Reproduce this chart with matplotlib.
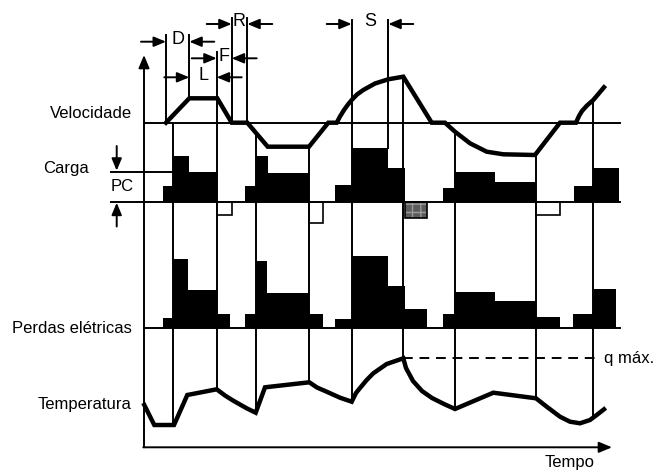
import numpy as np
import matplotlib
matplotlib.use("Agg")
import matplotlib.pyplot as plt

plt.rcParams['font.family'] = ['Liberation Sans', 'DejaVu Sans']

# Linhas de base de cada diagrama (coordenadas da figura, em pixels)
base_vel = 122.7
base_carga = 201.7
topo_pc = 171.7
base_perdas = 328.3
q_max = 358.3
eixo_x0, eixo_y0 = 144, 447.3

# Curva de velocidade
vel_x = [166, 189.3, 217.3, 231.7, 247.3, 267.7, 309, 328.3, 336.7, 340, 344, 348, 351.7,
         357, 363.3, 375, 388.3, 403.3, 431.7, 445, 455, 470, 486.7, 503.3, 535, 560, 576,
         579, 582, 587, 593.3, 604]
vel_y = [122.7, 98.3, 98.3, 122.7, 122.7, 146.7, 146.7, 122.7, 122.7, 116.5, 110, 104.5,
         100, 94.5, 90, 83.5, 79.3, 76.7, 122.7, 122.7, 131.7, 143.3, 151.7, 154.3, 155,
         122.7, 122.7, 116, 111, 105.5, 100, 87.3]

# Carga (altura acima da linha de base; negativo = frenagem)
carga_bordas = [162.7, 172.7, 189.3, 216.7, 231.7, 245, 255.7, 268.3, 309.3, 323.3, 335,
                351.7, 388.3, 405, 426.7, 443.3, 454, 495, 536, 560, 574, 593.3, 619]
carga = [16, 46, 30, -13, 0, 16, 46, 29, -21, 0, 17, 54, 34, -16, 0, 14, 30, 20, -13, 0,
         16, 34]
carga_tipo = ['m', 'm', 'm', 'f', '', 'm', 'm', 'm', 'f', '', 'm', 'm', 'm', 'g', '',
              'm', 'm', 'm', 'f', '', 'm', 'm']

# Perdas eletricas
perdas_bordas = [162.7, 172.7, 188.3, 216.7, 230, 245, 255.7, 266.7, 309.3, 322.7, 335,
                 351.7, 388.3, 405, 426.7, 442.7, 454, 495, 536, 560, 573.3, 593.3, 616]
perdas = [10.6, 69, 38, 14, 0, 14, 67.6, 35.6, 14, 0, 9.3, 72, 42.6, 19, 0, 14, 36.6,
          27.6, 11.6, 0, 14, 39]

# Temperatura
temp_x = [144.3, 154.3, 174, 187.3, 216.7, 225, 233.3, 246.7, 255.7, 265, 309.3, 317,
          326.7, 340, 351.7, 356, 360, 366.7, 373.3, 386.7, 403.3, 406, 413, 422, 432,
          444, 455, 493.3, 536, 546.7, 560, 570, 580, 590, 596.7, 604]
temp_y = [405, 425, 425, 395, 389.3, 395.5, 400.7, 408.3, 412.7, 387.3, 382.3, 387.5,
          391.7, 397.7, 401.7, 393, 388, 380, 373.3, 364, 358.3, 368, 381, 391, 398,
          404, 409, 392.7, 398.3, 406.7, 416.7, 421.7, 423.3, 420, 415, 409.3]

# Linhas verticais de cada periodo
ciclos_x = [173, 216.7, 256, 309.3, 351.7, 403.3, 455, 536, 593.3]

# Cotas: (rotulo, x esquerdo, x direito, y da seta, topo das linhas)
cotas = [('D', 166, 189.3, 41.7, 35),
         ('L', 189.3, 216.7, 77.3, None),
         ('F', 216.7, 231.7, 58.3, 52),
         ('R', 231.7, 247.3, 24, 18),
         ('S', 351.7, 388.3, 24, 20)]

rotulos = ['Velocidade', 'Carga', 'Perdas elétricas', 'Temperatura']
rotulos_x = [132, 89, 132, 132]
rotulos_y = [113.3, 169, 328.3, 404.3]

fig = plt.figure(figsize=(6.57, 4.70), dpi=100)
ax = fig.add_axes([0, 0, 1, 1])
ax.set_xlim(0, 657)
ax.set_ylim(470, 0)
ax.axis('off')

lw_fino = 1.4
lw_grosso = 3.2
seta = '-|>,head_length=0.6,head_width=0.25'
fs = 12

# eixos
ax.annotate('', xy=(eixo_x0, 55), xytext=(eixo_x0, eixo_y0),
            arrowprops=dict(arrowstyle=seta, color='k', lw=lw_fino, mutation_scale=13,
                            shrinkA=0, shrinkB=0))
ax.annotate('', xy=(612, eixo_y0), xytext=(eixo_x0 - 0.7, eixo_y0),
            arrowprops=dict(arrowstyle=seta, color='k', lw=lw_fino, mutation_scale=13,
                            shrinkA=0, shrinkB=0))

# linhas horizontais
ax.plot([eixo_x0, 620], [base_vel, base_vel], color='k', lw=lw_fino)
ax.plot([111, 620], [base_carga, base_carga], color='k', lw=lw_fino)
ax.plot([111, carga_bordas[1]], [topo_pc, topo_pc], color='k', lw=lw_fino)
ax.plot([eixo_x0, 620], [base_perdas, base_perdas], color='k', lw=lw_fino)
ax.plot([403.3, 597], [q_max, q_max], color='k', lw=lw_fino, dashes=(5, 3.5))

# linhas verticais dos periodos
for x in ciclos_x:
    y0 = np.interp(x, vel_x, vel_y)
    if x < vel_x[1]:
        y0 = base_vel
    y1 = np.interp(x, temp_x, temp_y)
    ax.plot([x, x], [y0, y1], color='k', lw=lw_fino)

# cotas
for nome, xa, xb, ys, topo in cotas:
    if topo is not None:
        for x in (xa, xb):
            yb = np.interp(x, vel_x, vel_y)
            if nome == 'R':
                yb = base_vel
            ax.plot([x, x], [topo, yb], color='k', lw=lw_fino)
    ax.annotate('', xy=(xa, ys), xytext=(xa - 25, ys),
                arrowprops=dict(arrowstyle=seta, color='k', lw=lw_fino, mutation_scale=12,
                                shrinkA=0, shrinkB=0))
    ax.annotate('', xy=(xb, ys), xytext=(xb + 25, ys),
                arrowprops=dict(arrowstyle=seta, color='k', lw=lw_fino, mutation_scale=12,
                                shrinkA=0, shrinkB=0))
    ax.text((xa + xb) / 2, ys - 2, nome, ha='center', va='center', fontsize=13)

# linha S direita vai ate o topo da carga
ax.plot([388.3, 388.3], [20, base_carga - carga[11]], color='k', lw=lw_fino)

# PC
ax.annotate('', xy=(116.7, topo_pc - 1), xytext=(116.7, 146),
            arrowprops=dict(arrowstyle=seta, color='k', lw=lw_fino, mutation_scale=12,
                            shrinkA=0, shrinkB=0))
ax.annotate('', xy=(116.7, base_carga + 1), xytext=(116.7, 226.5),
            arrowprops=dict(arrowstyle=seta, color='k', lw=lw_fino, mutation_scale=12,
                            shrinkA=0, shrinkB=0))
ax.text(122, 186.5, 'PC', ha='center', va='center', fontsize=fs)

# carga
esq = np.array(carga_bordas[:-1])
larg = np.diff(carga_bordas)
for xe, w, h, t in zip(esq, larg, carga, carga_tipo):
    if t == 'm':
        ax.bar(xe, -h, w, bottom=base_carga, align='edge', color='k', lw=0)
    elif t == 'f':
        ax.bar(xe, -h, w, bottom=base_carga, align='edge', color='white',
               edgecolor='k', lw=1.2)
    elif t == 'g':
        ax.bar(xe, -h, w, bottom=base_carga, align='edge', color='#5c5c5c',
               edgecolor='#9a9a9a', hatch='++', lw=0)
        ax.bar(xe, -h, w, bottom=base_carga, align='edge', color='none',
               edgecolor='k', lw=1.2)

# perdas
esq = np.array(perdas_bordas[:-1])
larg = np.diff(perdas_bordas)
ax.bar(esq, -np.array(perdas), larg, bottom=base_perdas, align='edge', color='k', lw=0)

# curvas
ax.plot(vel_x, vel_y, color='k', lw=lw_grosso, solid_joinstyle='miter')
ax.plot(temp_x, temp_y, color='k', lw=lw_grosso, solid_joinstyle='miter')

# rotulos
for r, x, y in zip(rotulos, rotulos_x, rotulos_y):
    ax.text(x, y, r, ha='right', va='center', fontsize=fs)
ax.text(604, q_max, 'q máx.', ha='left', va='center', fontsize=fs)
ax.text(570, 462, 'Tempo', ha='center', va='center', fontsize=fs)

fig.savefig('out.png', dpi=100)
